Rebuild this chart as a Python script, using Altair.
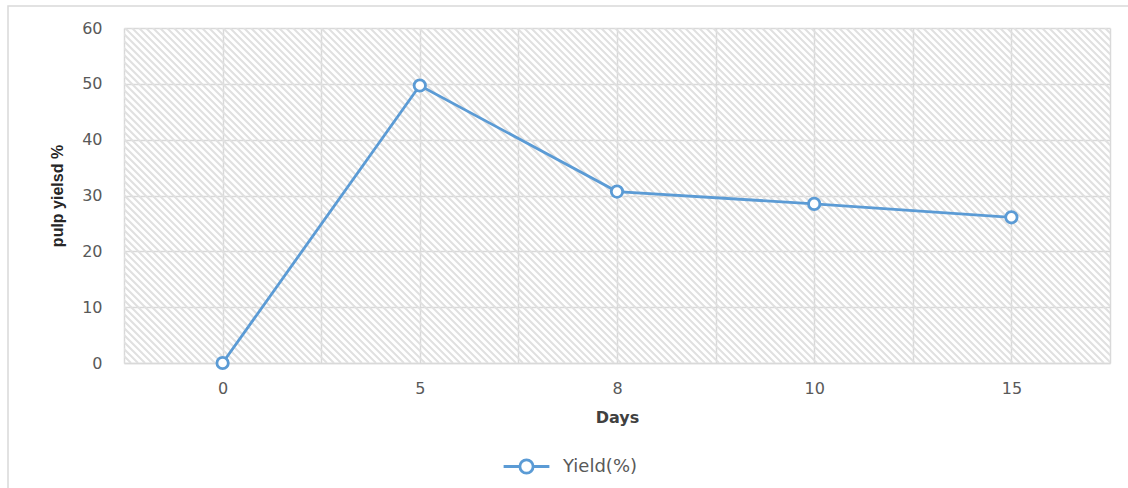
import altair as alt
import pandas as pd

# Harvest days and pulp yield
days = ["0", "5", "8", "10", "15"]
yield_pct = [0.0, 49.7, 30.7, 28.5, 26.1]
series_name = "Yield(%)"

W, H = 986, 335
BLUE = "#5B9BD5"
GRID = "#d9d9d9"
TEXT = "#595959"

df = pd.DataFrame({
    "pos": list(range(len(days))),
    "day": days,
    "yield": yield_pct,
    "series": [series_name] * len(days),
})

label_lookup = "[" + ",".join(f"'{d}'" for d in days) + "]"
x_ticks = [i / 2 - 0.5 for i in range(2 * len(days) + 1)]

x_enc = alt.X(
    "pos:Q",
    scale=alt.Scale(domain=[-0.5, len(days) - 0.5], nice=False, zero=False),
    axis=alt.Axis(
        values=x_ticks,
        labelExpr=f"datum.value % 1 == 0 ? {label_lookup}[datum.value] : ''",
        title="Days",
        titleFontWeight="bold",
        titleFontSize=16,
        titleColor="#404040",
        titlePadding=13,
        labelFontSize=16,
        labelColor=TEXT,
        labelPadding=17,
        ticks=False,
        grid=True,
        gridColor=GRID,
        gridWidth=1.5,
        domainColor=GRID,
        domainWidth=1.5,
    ),
)
y_enc = alt.Y(
    "yield:Q",
    scale=alt.Scale(domain=[0, 60], nice=False),
    axis=alt.Axis(
        values=[0, 10, 20, 30, 40, 50, 60],
        title="pulp yielsd %",
        titleFont="Liberation Sans Narrow, Liberation Sans",
        titleFontWeight="bold",
        titleFontSize=16,
        titleColor="#262626",
        titlePadding=16,
        labelFontSize=16,
        labelColor=TEXT,
        labelPadding=22,
        ticks=False,
        domain=False,
        grid=True,
        gridColor=GRID,
        gridWidth=1.5,
    ),
)

# Diagonal hatch fill of the plot area, laid out in pixel units
step = 7
hatch = pd.DataFrame({"x0": [float(k) for k in range(-H, W + step, step)]})
hatch["x1"] = hatch["x0"] + H
hatch["y0"] = 0.0
hatch["y1"] = float(H)

hatch_layer = alt.Chart(hatch).mark_rule(
    color="#e0e0e0", strokeWidth=2, clip=True
).encode(
    x=alt.X("x0:Q", scale=alt.Scale(domain=[0, W], nice=False), axis=None),
    x2="x1:Q",
    y=alt.Y("y0:Q", scale=alt.Scale(domain=[0, H], nice=False, reverse=True), axis=None),
    y2="y1:Q",
)

# Outer chart frame
frame = alt.Chart(pd.DataFrame({"k": [0]})).mark_rect(
    fill=None, stroke=GRID, strokeWidth=1.5, clip=False
).encode(
    x=alt.value(-116), x2=alt.value(1030), y=alt.value(-22), y2=alt.value(500)
)

legend_symbol = (
    "M-2.6,0H-0.75 M0.75,0H2.6 "
    "M0.75,0A0.75,0.75 0 1,1 -0.75,0A0.75,0.75 0 1,1 0.75,0Z"
)

base = alt.Chart(df)
line = base.mark_line(color=BLUE, strokeWidth=2.8).encode(x=x_enc, y=y_enc)
points = base.mark_point(
    filled=True, fill="white", strokeWidth=2.8, size=130, opacity=1
).encode(
    x=alt.X("pos:Q"),
    y=alt.Y("yield:Q"),
    stroke=alt.Stroke(
        "series:N",
        scale=alt.Scale(range=[BLUE]),
        legend=alt.Legend(
            title=None,
            orient="none",
            legendX=392,
            legendY=428,
            symbolType=legend_symbol,
            symbolSize=310,
            symbolStrokeWidth=2.8,
            symbolFillColor="white",
            symbolStrokeColor=BLUE,
            labelFontSize=18,
            labelColor=TEXT,
            labelOffset=26,
        ),
    ),
)

main = alt.layer(line, points)

chart = alt.layer(hatch_layer, frame, main).resolve_scale(
    x="independent", y="independent"
).properties(
    width=W,
    height=H,
    autosize=alt.AutoSizeParams(type="none"),
    padding={"left": 124, "top": 28, "right": 18, "bottom": 125},
).configure(
    font="DejaVu Sans",
).configure_view(stroke=None)

chart.save("out.html", embed_options={"renderer": "svg", "actions": False})
